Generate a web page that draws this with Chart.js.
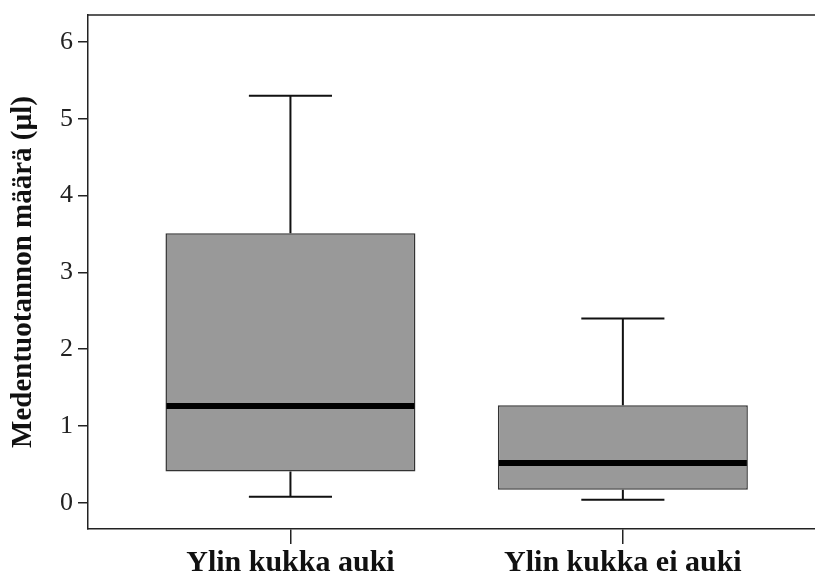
<!DOCTYPE html>
<html>
<head>
<meta charset="utf-8">
<script src="https://cdn.jsdelivr.net/npm/chart.js@4/dist/chart.umd.min.js"></script>
<style>
  html, body { margin: 0; padding: 0; background: #fff; }
  #wrap { width: 815px; height: 574px; position: relative; }
</style>
</head>
<body>
<div id="wrap"><canvas id="c"></canvas></div>
<script>
// Groups and five-number summaries (µl)
const categories = ['Ylin kukka auki', 'Ylin kukka ei auki'];
const whiskerLow  = [0.08, 0.04];
const quartile1   = [0.41, 0.17];
const medians     = [1.26, 0.52];
const quartile3   = [3.51, 1.27];
const whiskerHigh = [5.30, 2.40];
const yTickValues = [0, 1, 2, 3, 4, 5, 6];
const yTitle = 'Medentuotannon määrä (µl)';

const INK = '#222222';
const serif = "'Liberation Serif', 'DejaVu Serif', serif";

// Group positions along the x axis: 1, 2, ...
const positions = categories.map((_, i) => i + 1);

// Medians and whiskers, drawn from the data through the chart scales
const boxExtras = {
  id: 'boxExtras',
  afterDatasetsDraw(chart) {
    const ctx = chart.ctx;
    const xs = chart.scales.x, ys = chart.scales.y;
    const meta = chart.getDatasetMeta(0);
    ctx.save();
    positions.forEach((p, i) => {
      const bar = meta.data[i];
      const cx = xs.getPixelForValue(p);
      const half = bar.width / 2;
      // whiskers
      ctx.strokeStyle = '#111';
      ctx.lineWidth = 2;
      ctx.beginPath();
      ctx.moveTo(cx, ys.getPixelForValue(quartile3[i]));
      ctx.lineTo(cx, ys.getPixelForValue(whiskerHigh[i]));
      ctx.moveTo(cx, ys.getPixelForValue(quartile1[i]));
      ctx.lineTo(cx, ys.getPixelForValue(whiskerLow[i]));
      const capL = xs.getPixelForValue(p - 0.125);
      const capR = xs.getPixelForValue(p + 0.125);
      [whiskerHigh[i], whiskerLow[i]].forEach(v => {
        const y = ys.getPixelForValue(v);
        ctx.moveTo(capL, y);
        ctx.lineTo(capR, y);
      });
      ctx.stroke();
      // median
      ctx.strokeStyle = '#000';
      ctx.lineWidth = 6;
      ctx.beginPath();
      const my = ys.getPixelForValue(medians[i]);
      ctx.moveTo(cx - half + 1, my);
      ctx.lineTo(cx + half - 1, my);
      ctx.stroke();
    });
    ctx.restore();
  },
  afterDraw(chart) {
    // top frame line
    const a = chart.chartArea, ctx = chart.ctx;
    ctx.save();
    ctx.strokeStyle = INK;
    ctx.lineWidth = 1.5;
    ctx.beginPath();
    ctx.moveTo(a.left, a.top);
    ctx.lineTo(a.right, a.top);
    ctx.stroke();
    ctx.restore();
  }
};

new Chart(document.getElementById('c'), {
  type: 'bar',
  data: {
    datasets: [{
      data: positions.map((p, i) => ({ x: p, y: [quartile1[i], quartile3[i]] })),
      backgroundColor: '#999999',
      borderColor: '#333333',
      borderWidth: 1.5,
      borderSkipped: false,
      categoryPercentage: 1,
      barPercentage: 0.752
    }]
  },
  options: {
    responsive: true,
    maintainAspectRatio: false,
    animation: false,
    layout: { padding: 0 },
    plugins: { legend: { display: false }, tooltip: { enabled: false } },
    scales: {
      x: {
        type: 'linear',
        offset: false,
        min: 0.391,
        max: 2.578,
        afterBuildTicks(scale) { scale.ticks = positions.map(v => ({ value: v })); },
        afterFit(scale) { scale.height = 45; },
        grid: { offset: false, drawOnChartArea: false, drawTicks: true, tickLength: 15, color: INK, lineWidth: 1.5 },
        border: { display: true, color: INK, width: 1.5 },
        ticks: {
          padding: 1,
          color: '#111',
          font: { family: serif, size: 30, weight: 'bold' },
          callback: (v) => categories[v - 1] ?? ''
        }
      },
      y: {
        min: -0.34,
        max: 6.35,
        afterBuildTicks(scale) { scale.ticks = yTickValues.map(v => ({ value: v })); },
        afterFit(scale) {
          scale.width = 88;
          scale.paddingTop = 15;
          scale.paddingBottom = 0;
        },
        grid: { drawOnChartArea: false, drawTicks: true, tickLength: 10, color: INK, lineWidth: 1.5 },
        border: { display: true, color: INK, width: 1.5 },
        ticks: {
          padding: 5,
          color: '#222',
          font: { family: serif, size: 26 }
        },
        title: {
          display: true,
          text: yTitle,
          color: '#111',
          padding: { top: 6, bottom: 0 },
          font: { family: serif, size: 29, weight: 'bold' }
        }
      }
    }
  },
  plugins: [boxExtras]
});
</script>
</body>
</html>
